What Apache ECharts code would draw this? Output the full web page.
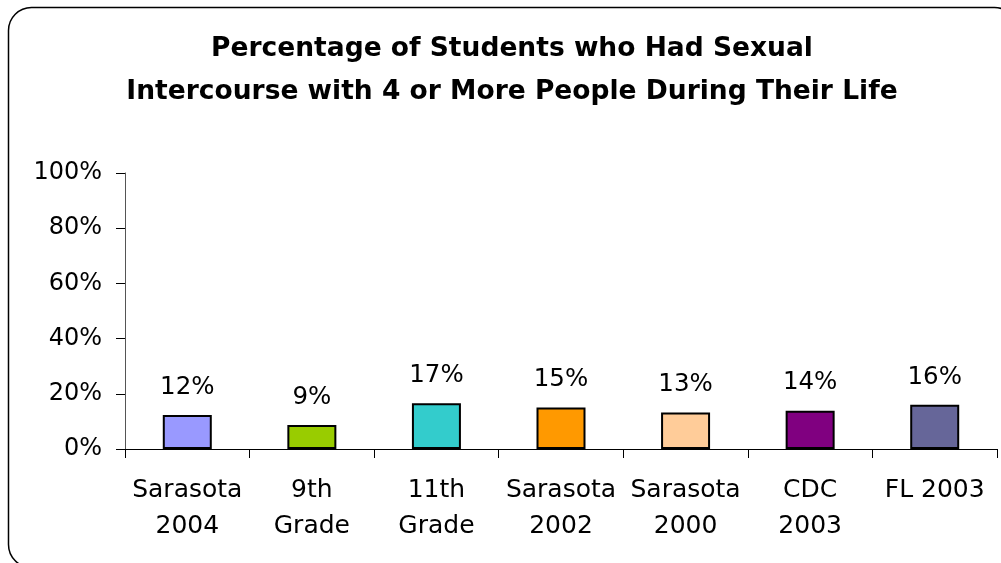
<!DOCTYPE html>
<html>
<head>
<meta charset="utf-8">
<script src="https://cdn.jsdelivr.net/npm/echarts@6/dist/echarts.min.js"></script>
<style>
  html, body { margin: 0; padding: 0; background: #fff; }
  #chart { width: 1001px; height: 563px; }
</style>
</head>
<body>
<div id="chart"></div>
<script>
const categories = ['Sarasota\n2004', '9th\nGrade', '11th\nGrade', 'Sarasota\n2002', 'Sarasota\n2000', 'CDC\n2003', 'FL 2003']
const values = [12.3, 8.7, 16.6, 15.0, 13.2, 13.9, 16.0]
const labels = ['12%', '9%', '17%', '15%', '13%', '14%', '16%']
const barColors = ['#9999FF', '#99CC00', '#33CCCC', '#FF9900', '#FFCC99', '#800080', '#666699']
const yTicks = [0, 20, 40, 60, 80, 100]

const font = 'DejaVu Sans'
const chart = echarts.init(document.getElementById('chart'))

const option = {
  backgroundColor: '#fff',
  animation: false,
  title: {
    text: 'Percentage of Students who Had Sexual\nIntercourse with 4 or More People During Their Life',
    left: 512,
    top: 28,
    textAlign: 'center',
    padding: 0,
    textStyle: { fontFamily: font, fontSize: 26.5, fontWeight: 'bold', color: '#000', lineHeight: 43 }
  },
  graphic: [{
    type: 'rect',
    shape: { x: 8.5, y: 7.5, width: 1009, height: 560, r: 23 },
    style: { fill: 'none', stroke: '#000', lineWidth: 1.5 },
    silent: true
  }],
  grid: { left: 125, right: 4, top: 173, bottom: 114 },
  xAxis: {
    type: 'category',
    data: categories,
    axisLine: { lineStyle: { color: '#000', width: 1 } },
    axisTick: { show: true, length: 9, alignWithLabel: false, lineStyle: { color: '#000' } },
    axisLabel: { fontFamily: font, fontSize: 25, color: '#000', lineHeight: 36, margin: 23, interval: 0 }
  },
  yAxis: {
    type: 'value',
    min: 0,
    max: 100,
    interval: 20,
    splitLine: { show: false },
    axisLine: { show: true, lineStyle: { color: '#555', width: 1 } },
    axisTick: { show: true, length: 9, lineStyle: { color: '#000' } },
    axisLabel: {
      fontFamily: font, fontSize: 24, color: '#000', margin: 23,
      formatter: v => (yTicks.includes(v) ? v + '%' : '')
    }
  },
  series: [{
    type: 'bar',
    barWidth: 49,
    data: values.map((v, i) => ({
      value: v,
      itemStyle: { color: barColors[i], borderColor: '#000', borderWidth: 2 }
    })),
    label: {
      show: true,
      position: 'top',
      distance: 15,
      fontFamily: font,
      fontSize: 24.5,
      color: '#000',
      formatter: p => labels[p.dataIndex]
    }
  }]
}

chart.setOption(option)
</script>
</body>
</html>
